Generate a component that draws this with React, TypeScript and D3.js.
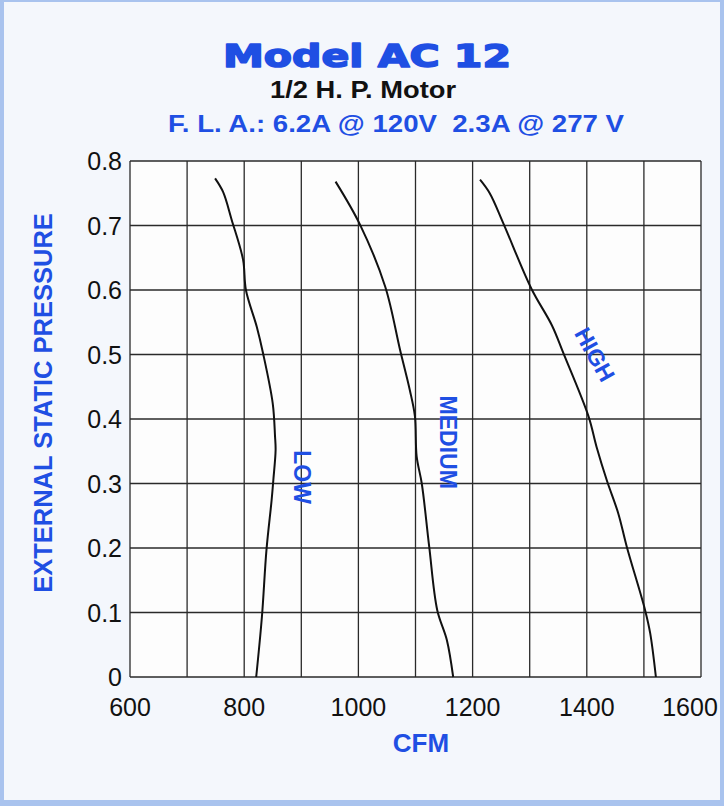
import React from "react";
import * as d3 from "d3";

// ---- data ----
const xTicks = [600, 700, 800, 900, 1000, 1100, 1200, 1300, 1400, 1500, 1600];
const xTickLabels = [600, 800, 1000, 1200, 1400, 1600];
const yTicks = [0, 0.1, 0.2, 0.3, 0.4, 0.5, 0.6, 0.7, 0.8];

const lowCfm = [749, 763, 778, 798, 803, 822, 833, 850, 854, 855, 851, 848, 839, 831, 821];
const lowPressure = [0.773, 0.752, 0.709, 0.647, 0.6, 0.543, 0.502, 0.424, 0.373, 0.352, 0.305, 0.274, 0.197, 0.093, 0];

const medCfm = [960, 1003, 1047, 1073, 1090, 1099, 1102, 1111, 1124, 1138, 1155, 1166];
const medPressure = [0.768, 0.701, 0.605, 0.507, 0.445, 0.404, 0.342, 0.3, 0.202, 0.104, 0.057, 0];

const highCfm = [1213, 1230, 1254, 1303, 1339, 1359, 1403, 1417, 1435, 1455, 1470, 1502, 1511, 1521];
const highPressure = [0.771, 0.75, 0.703, 0.602, 0.545, 0.502, 0.404, 0.357, 0.305, 0.254, 0.202, 0.104, 0.068, 0];

const seriesNames = ["LOW", "MEDIUM", "HIGH"];
const labelCfm = [901, 1157, 1414];
const labelPressure = [0.31, 0.364, 0.5];
const labelAngle = [90, 90, 61];

const title = "Model AC 12";
const subtitle = "1/2 H. P. Motor";
const subtitle2 = "F. L. A.: 6.2A @ 120V\u00a0\u00a02.3A @ 277 V";
const xTitle = "CFM";
const yTitle = "EXTERNAL STATIC PRESSURE";

const BLUE = "#1f4fe3";
const FONT = "'Liberation Sans', Arial, Helvetica, sans-serif";

export default function App() {
  const W = 724;
  const H = 806;
  const left = 130, right = 701, top = 161, bottom = 677;

  const x = d3.scaleLinear().domain([600, 1600]).range([left, right]);
  const y = d3.scaleLinear().domain([0, 0.8]).range([bottom, top]);

  const line = d3
    .line<[number, number]>()
    .x((d) => x(d[0]))
    .y((d) => y(d[1]))
    .curve(d3.curveCatmullRom.alpha(0.5));

  const series = [
    lowCfm.map((c, i) => [c, lowPressure[i]] as [number, number]),
    medCfm.map((c, i) => [c, medPressure[i]] as [number, number]),
    highCfm.map((c, i) => [c, highPressure[i]] as [number, number]),
  ];

  return (
    <svg
      width={W}
      height={H}
      style={{ position: "absolute", left: 0, top: 0 }}
      fontFamily={FONT}
    >
      <rect x={0} y={0} width={W} height={H} fill="#a9c3ee" />
      <rect x={4} y={2} width={W - 8} height={H - 8} fill="#f4f7fc" />

      {/* titles */}
      <text
        x={367}
        y={67}
        textAnchor="middle"
        fill={BLUE}
        stroke={BLUE}
        strokeWidth={1.6}
        strokeLinejoin="round"
        fontFamily="'DejaVu Sans', sans-serif"
        fontWeight={700}
        fontSize={32}
        textLength={288}
        lengthAdjust="spacingAndGlyphs"
      >
        {title}
      </text>
      <text x={363} y={98} textAnchor="middle" fill="#111" fontWeight={700} fontSize={24} textLength={186} lengthAdjust="spacingAndGlyphs">
        {subtitle}
      </text>
      <text x={396} y={132} textAnchor="middle" fill={BLUE} fontWeight={700} fontSize={23} textLength={456} lengthAdjust="spacingAndGlyphs">
        {subtitle2}
      </text>

      {/* plot area */}
      <rect x={left} y={top} width={right - left} height={bottom - top} fill="#fdfdfd" />
      <g stroke="#2a2a2a" strokeWidth={1.3}>
        {xTicks.map((t) => (
          <line key={"gx" + t} x1={x(t)} x2={x(t)} y1={top} y2={bottom} />
        ))}
        {yTicks.map((t) => (
          <line key={"gy" + t} x1={left} x2={right} y1={y(t)} y2={y(t)} />
        ))}
      </g>

      {/* tick labels */}
      <g fill="#111" fontSize={25}>
        {yTicks.map((t) => (
          <text key={"ly" + t} x={left - 8} y={y(t) + 9} textAnchor="end">
            {t === 0 ? "0" : d3.format(".1f")(t)}
          </text>
        ))}
        {xTickLabels.map((t) => (
          <text key={"lx" + t} x={Math.min(x(t), W - 34)} y={716} textAnchor="middle">
            {t}
          </text>
        ))}
      </g>

      {/* axis titles */}
      <text x={421} y={752} textAnchor="middle" fill={BLUE} fontWeight={700} fontSize={26}>
        {xTitle}
      </text>
      <text
        transform={`translate(52,403) rotate(-90)`}
        textAnchor="middle"
        fill={BLUE}
        fontWeight={700}
        fontSize={25.5}
      >
        {yTitle}
      </text>

      {/* curves */}
      {series.map((s, i) => (
        <path key={"s" + i} d={line(s) || ""} fill="none" stroke="#111" strokeWidth={2} />
      ))}

      {/* curve labels */}
      {seriesNames.map((n, i) => (
        <text
          key={"n" + n}
          transform={`translate(${x(labelCfm[i])},${y(labelPressure[i])}) rotate(${labelAngle[i]})`}
          textAnchor="middle"
          dy="0.35em"
          fill={BLUE}
          fontWeight={700}
          fontSize={23}
        >
          {n}
        </text>
      ))}
    </svg>
  );
}
